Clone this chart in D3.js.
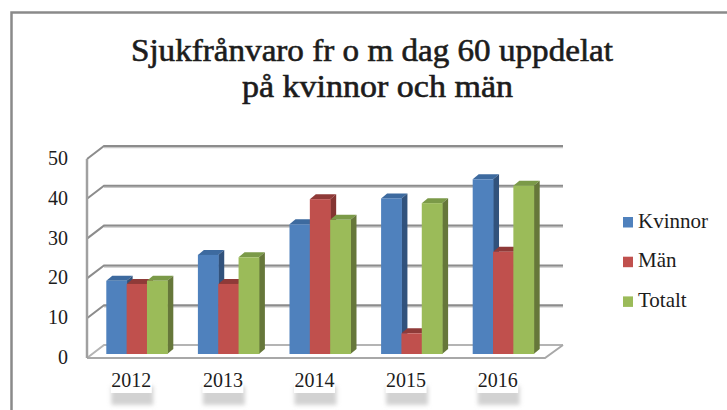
<!DOCTYPE html>
<html><head><meta charset="utf-8">
<script src="https://cdn.jsdelivr.net/npm/d3@7"></script>
<style>html,body{margin:0;padding:0;background:#fff}svg{display:block}text{font-family:"Liberation Serif",serif;fill:#1c1c1c}</style>
</head><body><script>
const categories=["2012","2013","2014","2015","2016"];
const seriesNames=["Kvinnor","Män","Totalt"];
const kvinnor=[18.4,24.9,32.6,39.1,43.9];
const man=[17.6,17.6,38.9,5.2,25.7];
const totalt=[18.4,24.3,33.7,37.9,42.3];
const seriesValues=[kvinnor,man,totalt];
const titleLines=["Sjukfrånvaro fr o m dag 60 uppdelat","på kvinnor och män"];
const faceColors=["#4f81bd","#c0504d","#9bbb59"];
const topColors=["#3d6a9f","#8f3a38","#7b9a48"];
const sideColors=["#31527c","#843432","#66773a"];

const W=727,H=410;
const svg=d3.select("body").append("svg").attr("width",W).attr("height",H);
const defs=svg.append("defs");
defs.append("filter").attr("id","blur").attr("x","-30%").attr("y","-50%").attr("width","160%").attr("height","200%")
  .append("feGaussianBlur").attr("stdDeviation",2.2);

// chart frame
svg.append("path").attr("d",`M${W},12.5H11.5V${H}`).attr("fill","none").attr("stroke","#8a8a8a").attr("stroke-width",2.5);

// title
const titleBox=[{x:131,w:482,y:61},{x:242,w:271,y:96.5}];
svg.append("g").selectAll("text").data(titleLines).join("text")
  .attr("x",(d,i)=>titleBox[i].x).attr("y",(d,i)=>titleBox[i].y)
  .attr("textLength",(d,i)=>titleBox[i].w).attr("lengthAdjust","spacingAndGlyphs")
  .attr("font-size",31).attr("stroke","#1c1c1c").attr("stroke-width",0.6).text(d=>d);

// scales
const left=87,right=545,depthX=17,depthY=13;
const yFront=d3.scaleLinear().domain([0,50]).range([358,159]);
const yBar=d3.scaleLinear().domain([0,50]).range([354,155]);
const xBand=d3.scaleBand().domain(categories).range([91,549]).paddingInner(0.334).paddingOuter(0.167);
const xSeries=d3.scaleBand().domain(seriesNames).range([0,xBand.bandwidth()]);
const ticks=yFront.ticks(5);

// gridlines (back wall and side wall)
const grid=svg.append("g").attr("fill","none");
ticks.filter(t=>t>0).forEach(t=>{
  const y=yFront(t);
  grid.append("path").attr("d",`M${left+depthX},${y-depthY+1.5}H${right+depthX+1}`).attr("stroke","#c8c8c8").attr("stroke-width",1.5);
  grid.append("path").attr("d",`M${left},${y}L${left+depthX},${y-depthY}H${right+depthX+1}`).attr("stroke","#8c8c8c").attr("stroke-width",2);
});
// floor
const y0=yFront(0);
grid.append("path").attr("d",`M${left},${y0}L${left+depthX},${y0-depthY}H${right+depthX+1}`).attr("stroke","#b4b4b4").attr("stroke-width",2);
grid.append("path").attr("d",`M${left},${y0}H${right}L${right+depthX+1},${y0-depthY}`).attr("stroke","#a8a8a8").attr("stroke-width",2);
grid.append("path").attr("d",`M${left},${yFront(50)}V${y0}`).attr("stroke","#a0a0a0").attr("stroke-width",2.5);

// 3D bars
const barDX=6,barDY=5;
categories.forEach((c,ci)=>{
  const g=svg.append("g");
  seriesNames.forEach((s,si)=>{
    const v=seriesValues[si][ci];
    const x=xBand(c)+xSeries(s),w=xSeries.bandwidth(),yt=yBar(v),yb=yBar(0);
    g.append("path").attr("fill",topColors[si]).attr("d",`M${x},${yt}l${barDX},${-barDY}h${w}l${-barDX},${barDY}z`);
    g.append("path").attr("fill",sideColors[si]).attr("d",`M${x+w},${yt}l${barDX},${-barDY}V${yb-barDY}l${-barDX},${barDY}z`);
  });
  seriesNames.forEach((s,si)=>{
    const v=seriesValues[si][ci];
    const x=xBand(c)+xSeries(s),w=xSeries.bandwidth();
    g.append("rect").attr("x",x).attr("y",yBar(v)).attr("width",w+0.5).attr("height",yBar(0)-yBar(v)).attr("fill",faceColors[si]);
  });
});

// y axis labels
const yAxis=svg.append("g").attr("transform","translate(68,-1)")
  .call(d3.axisLeft(yFront).tickValues(ticks).tickSize(0).tickPadding(0));
yAxis.select(".domain").remove();
yAxis.selectAll("text").attr("font-size",20).attr("font-family",'"Liberation Serif",serif').attr("fill","#1c1c1c");

// category labels with shadowed white boxes
const xCenter=c=>xBand(c)+xBand.bandwidth()/2-5.5;
const lab=svg.append("g");
lab.selectAll("rect.s").data(categories).join("rect").attr("class","s")
  .attr("x",c=>xCenter(c)-20).attr("y",386).attr("width",42).attr("height",19)
  .attr("fill","#d2d2d2").attr("filter","url(#blur)");
lab.selectAll("rect.b").data(categories).join("rect").attr("class","b")
  .attr("x",c=>xCenter(c)-20.5).attr("y",372).attr("width",41).attr("height",21).attr("fill","#fff");
lab.selectAll("text").data(categories).join("text")
  .attr("x",xCenter).attr("y",387).attr("text-anchor","middle").attr("font-size",20).text(d=>d);

// legend
const legend=svg.append("g").selectAll("g").data(seriesNames).join("g")
  .attr("transform",(d,i)=>`translate(623,${217+i*39.7})`);
legend.append("rect").attr("width",10).attr("height",10.5).attr("fill",(d,i)=>faceColors[i]);
legend.append("text").attr("x",15).attr("y",10.5).attr("font-size",21).text(d=>d);
</script></body></html>
